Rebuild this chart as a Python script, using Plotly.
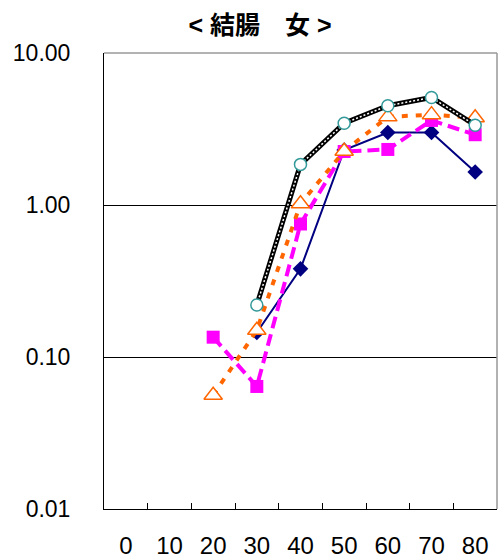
import plotly.graph_objects as go

ages = ["0", "10", "20", "30", "40", "50", "60", "70", "80"]
teal_circle = [None, None, None, 0.22, 1.85, 3.45, 4.5, 5.1, 3.35]
navy_diamond = [None, None, None, 0.145, 0.38, 2.3, 3.0, 3.0, 1.65]
magenta_square = [None, None, 0.135, 0.064, 0.75, 2.25, 2.32, 3.6, 2.9]
orange_triangle = [None, None, 0.056, 0.15, 1.02, 2.26, 3.8, 3.93, 3.75]

y_tickvals = [0.01, 0.1, 1, 10]
y_ticktext = ["0.01", "0.10", "1.00", "10.00"]
title_text = "< 結腸　女 >"

FONT = "Liberation Sans, Arial, Noto Sans CJK JP, sans-serif"

fig = go.Figure()

fig.add_trace(go.Scatter(
    x=ages, y=navy_diamond, mode="lines+markers",
    line=dict(color="#000080", width=2),
    marker=dict(symbol="diamond", size=12, color="#000080"),
    showlegend=False))

fig.add_trace(go.Scatter(
    x=ages, y=magenta_square, mode="lines+markers",
    line=dict(color="#FF00FF", width=4, dash="12px,6px"),
    marker=dict(symbol="square", size=13, color="#FF00FF"),
    showlegend=False))

fig.add_trace(go.Scatter(
    x=ages, y=orange_triangle, mode="lines+markers",
    line=dict(color="#FF6600", width=4, dash="6px,8px"),
    marker=dict(symbol="triangle-up", size=16, color="white",
                line=dict(color="#FF6600", width=1.5)),
    showlegend=False))

# black "chain" line: thick black with white dots on top
fig.add_trace(go.Scatter(
    x=ages, y=teal_circle, mode="lines",
    line=dict(color="black", width=5),
    showlegend=False, hoverinfo="skip"))
fig.add_trace(go.Scatter(
    x=ages, y=teal_circle, mode="lines",
    line=dict(color="white", width=1.5, dash="2px,2px"),
    showlegend=False, hoverinfo="skip"))
fig.add_trace(go.Scatter(
    x=ages, y=teal_circle, mode="markers",
    marker=dict(symbol="circle", size=12, color="white",
                line=dict(color="#339999", width=1.5)),
    showlegend=False))

fig.update_layout(
    width=500, height=559,
    margin=dict(l=104, r=3, t=53, b=50, autoexpand=False),
    paper_bgcolor="white", plot_bgcolor="white",
    font=dict(family=FONT, size=24, color="black"),
    title=dict(text=title_text, x=0.52, xanchor="center",
               y=1 - 25 / 559, yanchor="middle",
               font=dict(family="Liberation Sans, Noto Sans CJK JP, sans-serif",
                         size=25, color="black", weight="bold")),
    xaxis=dict(type="category", categoryorder="array", categoryarray=ages,
               range=[-0.5, len(ages) - 0.5], automargin=False,
               showline=True, linecolor="black", linewidth=1,
               showgrid=False, zeroline=False,
               ticks="inside", tickson="boundaries", ticklen=6,
               tickcolor="black", tickwidth=1,
               ticklabelstandoff=15,
               tickfont=dict(size=24)),
    yaxis=dict(type="log", range=[-2, 1], automargin=False,
               tickvals=y_tickvals, ticktext=y_ticktext,
               showline=True, linecolor="black", linewidth=1,
               showgrid=True, gridcolor="black", gridwidth=1,
               zeroline=False, ticks="",
               ticklabelstandoff=28,
               tickfont=dict(size=23)),
    shapes=[
        dict(type="line", xref="paper", yref="paper", x0=0, x1=1, y0=1, y1=1,
             line=dict(color="#999999", width=1.5), layer="above"),
        dict(type="line", xref="paper", yref="paper", x0=1, x1=1, y0=0, y1=1,
             line=dict(color="#999999", width=1.5), layer="above"),
    ],
)

fig.write_html("out.html", config={"displayModeBar": False},
               post_script="document.body.style.margin='0';")
